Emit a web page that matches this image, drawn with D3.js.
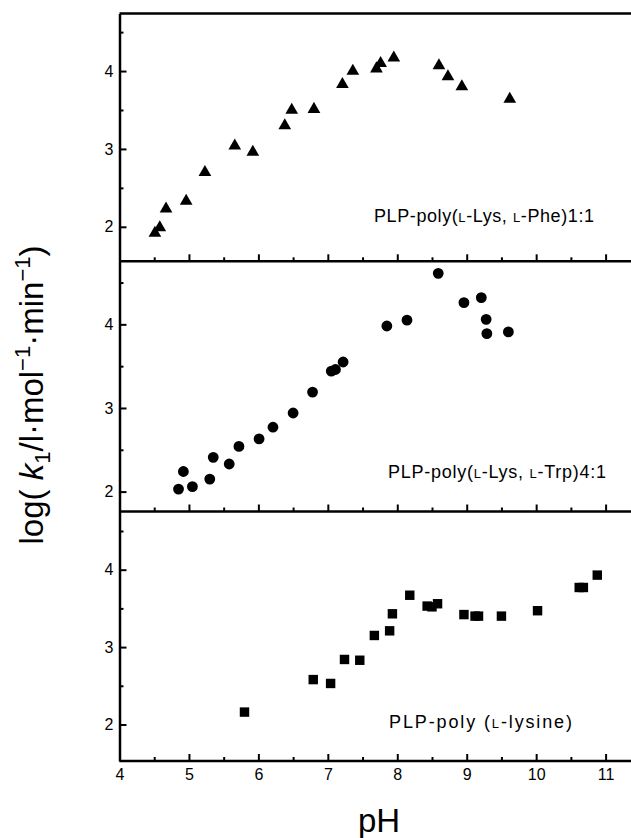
<!DOCTYPE html>
<html>
<head>
    <meta charset="UTF-8">
    <title>log k1 vs pH</title>
    <script src="https://d3js.org/d3.v7.min.js"></script>
    <style>
        body { margin: 0; background: #fff; }
        svg { display: block; font-family: "Liberation Sans", Arial, sans-serif; }
        .axis path, .axis line { stroke: #000; }
        .axis text { font-size: 16px; fill: #000; }
    </style>
</head>
<body>
<svg width="631" height="838"></svg>
<script>
    // PLP-poly(L-Lys,L-Phe)1:1
    const phePH = [4.51, 4.58, 4.67, 4.96, 5.23, 5.66, 5.92, 6.38, 6.48, 6.80, 7.21, 7.36, 7.70, 7.76, 7.95, 8.60, 8.73, 8.93, 9.62];
    const pheLogK = [1.92, 1.99, 2.23, 2.33, 2.70, 3.04, 2.96, 3.30, 3.50, 3.51, 3.83, 4.00, 4.03, 4.10, 4.17, 4.07, 3.93, 3.80, 3.64];

    // PLP-poly(L-Lys,L-Trp)4:1
    const trpPH = [4.85, 4.92, 5.05, 5.30, 5.35, 5.58, 5.72, 6.01, 6.21, 6.50, 6.78, 7.05, 7.11, 7.22, 7.85, 8.14, 8.59, 8.96, 9.21, 9.28, 9.29, 9.60];
    const trpLogK = [2.03, 2.24, 2.06, 2.15, 2.41, 2.33, 2.54, 2.63, 2.77, 2.94, 3.19, 3.44, 3.46, 3.55, 3.98, 4.05, 4.61, 4.26, 4.32, 4.06, 3.89, 3.91];

    // PLP-poly(L-lysine)
    const lysPH = [5.80, 6.79, 7.04, 7.24, 7.46, 7.67, 7.89, 7.93, 8.18, 8.43, 8.50, 8.58, 8.96, 9.12, 9.17, 9.50, 10.02, 10.62, 10.68, 10.88];
    const lysLogK = [2.16, 2.58, 2.53, 2.84, 2.83, 3.15, 3.21, 3.43, 3.67, 3.53, 3.52, 3.56, 3.42, 3.40, 3.40, 3.40, 3.47, 3.77, 3.77, 3.93];

    const xTicks = [4, 5, 6, 7, 8, 9, 10, 11];
    const xMinor = [4.5, 5.5, 6.5, 7.5, 8.5, 9.5, 10.5];
    const yTicks = [2, 3, 4];
    const yMinor = [2.5, 3.5, 4.5];

    // "ʟ" marks a small-capital L
    const labels = ["PLP-poly(ʟ-Lys, ʟ-Phe)1:1", "PLP-poly(ʟ-Lys, ʟ-Trp)4:1", "PLP-poly (ʟ-lysine)"];

    const svg = d3.select("svg");
    const x = d3.scaleLinear().domain([4, 11]).range([119.5, 605.6]);

    const panels = [
        {ph: phePH, k: pheLogK, symbol: d3.symbolTriangle, size: 70, top: 13.5, bottom: 261.3, domain: [1.557, 4.739],
            label: labels[0], lx: 7.665, ly: 2.066, lw: 220},
        {ph: trpPH, k: trpLogK, symbol: d3.symbolCircle, size: 92, top: 261.3, bottom: 511.5, domain: [1.762, 4.754],
            label: labels[1], lx: 7.867, ly: 2.167, lw: 218},
        {ph: lysPH, k: lysLogK, symbol: d3.symbolSquare, size: 89, top: 511.5, bottom: 761, domain: [1.528, 4.752],
            label: labels[2], lx: 7.881, ly: 1.95, lw: 183}
    ];

    // top frame line
    svg.append("line")
        .attr("x1", x(4)).attr("x2", 631)
        .attr("y1", 13.5).attr("y2", 13.5)
        .attr("stroke", "#000").attr("stroke-width", 2.5);

    panels.forEach((p, i) => {
        const y = d3.scaleLinear().domain(p.domain).range([p.bottom, p.top]);
        const last = i === panels.length - 1;

        // y axis, ticks inward
        svg.append("g").attr("class", "axis")
            .attr("transform", `translate(${x(4)},0)`)
            .call(d3.axisLeft(y).tickValues(yMinor).tickSize(-4).tickSizeOuter(0).tickFormat(""))
            .call(g => g.select(".domain").remove())
            .selectAll("line").attr("stroke-width", 2);
        const ya = svg.append("g").attr("class", "axis")
            .attr("transform", `translate(${x(4)},0)`)
            .call(d3.axisLeft(y).tickValues(yTicks).tickSize(-7).tickSizeOuter(0).tickPadding(6).tickFormat(d3.format("d")));
        ya.select(".domain").attr("stroke-width", 2.5);
        ya.selectAll("line").attr("stroke-width", 2);

        // x axis along the bottom of the panel, ticks inward
        svg.append("g").attr("class", "axis")
            .attr("transform", `translate(0,${p.bottom})`)
            .call(d3.axisBottom(x).tickValues(xMinor).tickSize(-4).tickSizeOuter(0).tickFormat(""))
            .call(g => g.select(".domain").remove())
            .selectAll("line").attr("stroke-width", 2);
        const xa = svg.append("g").attr("class", "axis")
            .attr("transform", `translate(0,${p.bottom})`)
            .call(d3.axisBottom(x).tickValues(xTicks).tickSize(-7).tickSizeOuter(0).tickPadding(8)
                .tickFormat(last ? d3.format("d") : ""));
        xa.select(".domain").attr("d", `M${x(4)},0H631`).attr("stroke-width", 2.5);
        xa.selectAll("line").attr("stroke-width", 2);

        // markers
        svg.append("g")
            .selectAll("path")
            .data(p.ph.map((v, j) => [v, p.k[j]]))
            .join("path")
            .attr("transform", d => `translate(${x(d[0])},${y(d[1])})`)
            .attr("d", d3.symbol().type(p.symbol).size(p.size))
            .attr("fill", "#000");

        // panel label
        const t = svg.append("text")
            .attr("x", x(p.lx)).attr("y", y(p.ly))
            .attr("font-size", 18)
            .attr("textLength", p.lw)
            .attr("lengthAdjust", "spacing");
        p.label.split("ʟ").forEach((part, j) => {
            if (j > 0) t.append("tspan").attr("font-size", 13).text("L");
            t.append("tspan").text(part);
        });
    });

    // axis titles
    svg.append("text")
        .attr("x", 379).attr("y", 832)
        .attr("text-anchor", "middle")
        .attr("font-size", 33)
        .text("pH");

    const yt = svg.append("text")
        .attr("transform", "translate(43,395) rotate(-90)")
        .attr("text-anchor", "middle")
        .attr("font-size", 33);
    yt.append("tspan").text("log( ");
    yt.append("tspan").attr("font-style", "italic").text("k");
    yt.append("tspan").attr("font-size", 22).attr("dy", 7).text("1");
    yt.append("tspan").attr("dy", -7).text("/l·mol");
    yt.append("tspan").attr("font-size", 22).attr("dy", -13).text("−1");
    yt.append("tspan").attr("dy", 13).text("·min");
    yt.append("tspan").attr("font-size", 22).attr("dy", -13).text("−1");
    yt.append("tspan").attr("dy", 13).text(")");
</script>
</body>
</html>
